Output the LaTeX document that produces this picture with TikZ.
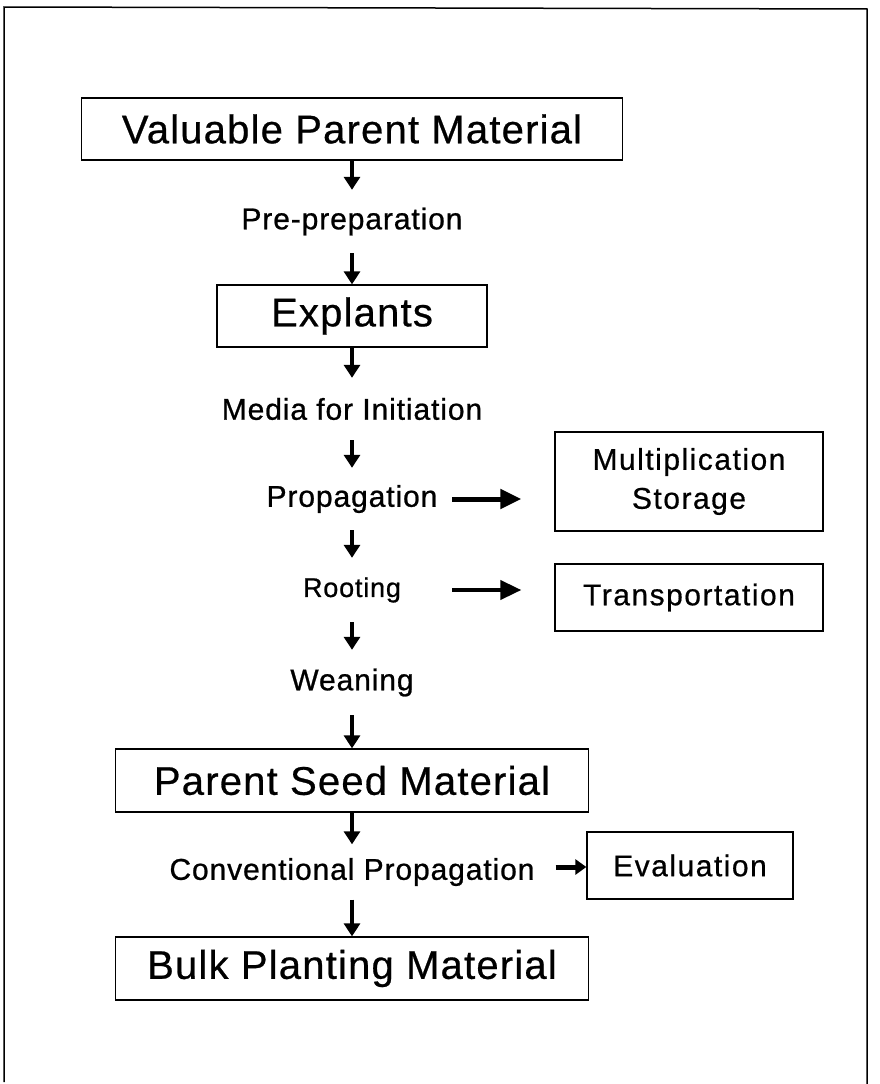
\documentclass[tikz,border=0pt]{standalone}
\usepackage{fontspec}
\setmainfont{Liberation Sans}
\newfontfamily\boxfont[LetterSpace=3,FakeBold=0.6]{Liberation Sans}
\newfontfamily\sidefont[LetterSpace=5,FakeBold=0.6]{Liberation Sans}
\newfontfamily\stepfont[LetterSpace=3,FakeBold=0.8]{Liberation Sans}
\usetikzlibrary{arrows.meta,positioning}

\begin{document}
\begin{tikzpicture}[x=1pt, y=-1pt,
        box/.style={draw, line width=1.3pt, inner sep=0pt,
                    minimum height=62pt,
                    font={\boxfont\fontsize{40}{44}\selectfont}},
        sidebox/.style={draw, line width=1.3pt, inner sep=0pt,
                    minimum width=268pt, align=center,
                    font={\sidefont\fontsize{30}{39}\selectfont}},
        lbl/.style={inner sep=0pt, minimum height=62pt,
                    minimum width=200pt,
                    font={\stepfont\fontsize{30}{33}\selectfont}},
        arr/.style={-{Triangle[length=13pt,width=16pt]}, line width=3.5pt},
        harr/.style={-{Triangle[length=21pt,width=19pt]}, line width=5pt}
      ]
        \useasboundingbox (0,0) rectangle (880,1084);
        % frame, open at the bottom
        \draw[line width=1.5pt] (4,1082) -- (4,7) -- (867,9) -- (867,1084);

        \node[box, minimum width=541pt] (vpm) at (352,129)
          {Valuable Parent Material};
        \node[lbl, minimum height=63pt] (prep) at (352,221.5) {Pre-preparation};
        \node[box, minimum width=270pt] (expl) at (352,316) {Explants};
        \node[lbl] (media) at (352,409) {Media for Initiation};
        \node[lbl] (prop) at (352,499) {Propagation};
        \node[sidebox, minimum height=99pt] (mult) at (689,481.5)
          {Multiplication\\Storage};
        \node[lbl, minimum height=64pt, font={\stepfont\fontsize{27}{30}\selectfont}]
          (root) at (352,590) {Rooting};
        \node[sidebox, minimum height=67pt] (trans) at (689,597.5)
          {Transportation};
        \node[lbl, minimum height=65pt] (wean) at (352,682.5) {Weaning};
        \node[box, minimum width=473pt, minimum height=63pt] (psm) at (352,780.5)
          {Parent Seed Material};
        \node[lbl, minimum height=55pt] (conv) at (352,872)
          {Conventional Propagation};
        \node[sidebox, minimum width=206pt, minimum height=67pt] (eval)
          at (690,865.5) {Evaluation};
        \node[box, minimum width=473pt, minimum height=63pt] (bulk) at (352,968.5)
          {Bulk Planting Material};

        \draw[arr] (vpm) -- (prep);
        \draw[arr] (prep) -- (expl);
        \draw[arr] (expl) -- (media);
        \draw[arr] (media) -- (prop);
        \draw[arr] (prop) -- (root);
        \draw[arr] (root) -- (wean);
        \draw[arr] (wean) -- (psm);
        \draw[arr] (psm) -- (conv);
        \draw[arr] (conv) -- (bulk);

        \draw[harr, shorten >=33pt] (prop.east) -- (prop.east -| mult.west);
        \draw[harr, line width=4pt, shorten >=33pt]
          (root.east) -- (root.east -| trans.west);
        \draw[-{Triangle[length=11pt,width=15pt]}, line width=5pt,
              shorten <=21pt]
          ([yshift=5pt]conv.east) -- ([yshift=5pt]conv.east -| eval.west);
      \end{tikzpicture}
\end{document}
